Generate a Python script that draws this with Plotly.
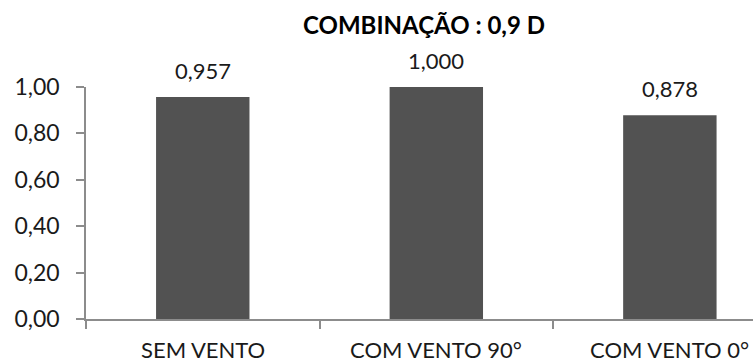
import plotly.graph_objects as go

categories = ["SEM VENTO", "COM VENTO 90°", "COM VENTO 0°"]
values = [0.957, 1.000, 0.878]
value_labels = ["0,957", "1,000", "0,878"]
y_tickvals = [0.0, 0.2, 0.4, 0.6, 0.8, 1.0]
y_ticktext = ["0,00", "0,20", "0,40", "0,60", "0,80", "1,00"]
title_text = "COMBINAÇÃO : 0,9 D"

FONT = "Lato"
AXIS = "#8c8c8c"
TXT = "#1a1a1a"

fig = go.Figure()
fig.add_trace(go.Bar(
    x=[0, 1, 2], y=values,
    width=0.4,
    marker=dict(color="#525252", line=dict(width=0)),
    hoverinfo="skip",
))

for i, (v, t) in enumerate(zip(values, value_labels)):
    fig.add_annotation(x=i, y=v, text=t, showarrow=False,
                       yanchor="bottom", yshift=11,
                       font=dict(family=FONT, size=22, color=TXT))

# category labels (as annotations so the last one may sit at the right edge like the reference)
for i, c in enumerate(categories):
    fig.add_annotation(x=i, y=0, yref="paper", text=c, showarrow=False,
                       xanchor="center", yanchor="top", yshift=-15,
                       font=dict(family=FONT, size=22, color=TXT))

fig.add_annotation(xref="paper", yref="paper", x=(424 - 86) / (753 - 86), y=1,
                   yshift=63, text="<b>" + title_text + "</b>", showarrow=False,
                   xanchor="center", yanchor="middle",
                   font=dict(family=FONT, size=24, color="#000000"))

fig.update_layout(
    width=753, height=363,
    margin=dict(l=86, r=0, t=87, b=44),
    paper_bgcolor="white", plot_bgcolor="white",
    showlegend=False,
    font=dict(family=FONT, color=TXT),
    xaxis=dict(
        tickmode="array", tickvals=[-0.5, 0.5, 1.5, 2.5], ticktext=["", "", "", ""],
        range=[-0.5, 2.356],
        showgrid=False, zeroline=False,
        showline=True, linecolor=AXIS, linewidth=1.5,
        ticks="outside", ticklen=8, tickcolor=AXIS, tickwidth=1.5,
    ),
    yaxis=dict(
        range=[0, 1.0],
        tickmode="array", tickvals=y_tickvals, ticktext=y_ticktext,
        showgrid=False, zeroline=False,
        showline=True, linecolor=AXIS, linewidth=1.5,
        ticks="outside", ticklen=8, tickcolor=AXIS, tickwidth=1.5,
        tickfont=dict(family=FONT, size=23, color=TXT),
        ticklabelstandoff=12,
    ),
)

fig.write_html("out.html")
